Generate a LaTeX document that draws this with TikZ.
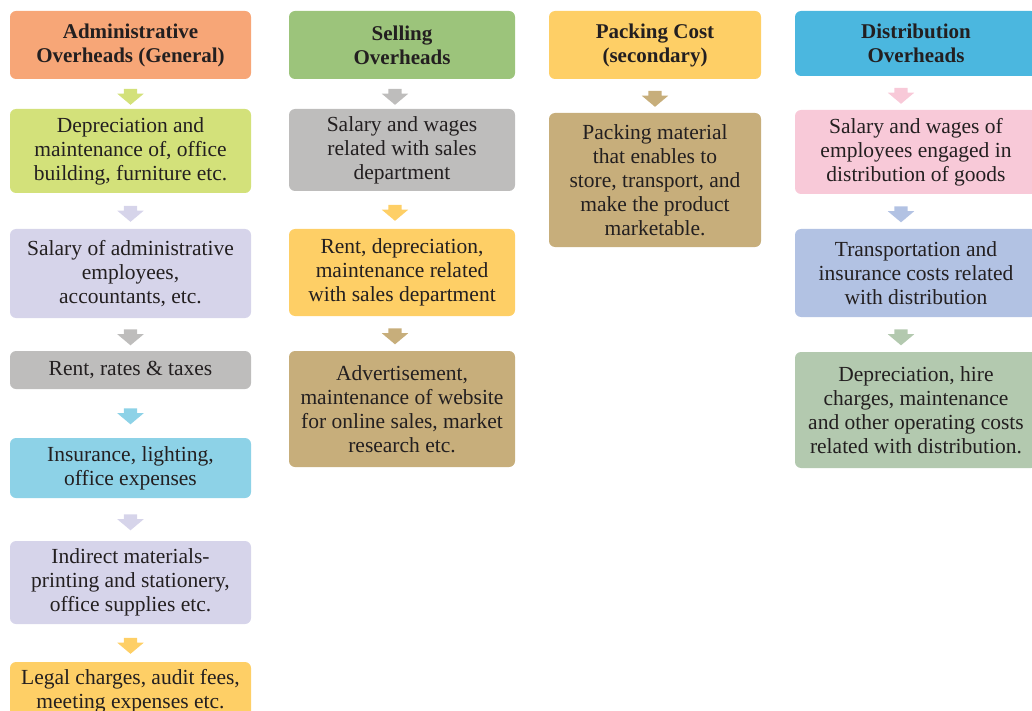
\documentclass[tikz,border=0pt]{standalone}
\usepackage{fontspec}
\setmainfont{Liberation Serif}
\usetikzlibrary{shapes.arrows}

\definecolor{cOrange}{HTML}{F7A677}
\definecolor{cLime}{HTML}{D3E17A}
\definecolor{cLav}{HTML}{D6D4EA}
\definecolor{cGray}{HTML}{BEBDBC}
\definecolor{cSky}{HTML}{8DD2E7}
\definecolor{cYellow}{HTML}{FECF66}
\definecolor{cGreen}{HTML}{9CC47B}
\definecolor{cTan}{HTML}{C7AE7B}
\definecolor{cBlue}{HTML}{4BB7DF}
\definecolor{cPink}{HTML}{F8C9D8}
\definecolor{cPeri}{HTML}{B2C2E3}
\definecolor{cSage}{HTML}{B3C9AF}
\definecolor{cInk}{HTML}{231F20}

\tikzset{
  box/.style={rounded corners=6pt, align=center, inner sep=2pt, text=cInk,
    font=\fontsize{21.5}{24}\selectfont},
  head/.style={box, font=\fontsize{21}{24}\selectfont\bfseries},
  flowarr/.style={single arrow, rotate=-90, draw=none,
    inner xsep=0pt, inner ysep=6.5pt,
    minimum height=16pt, minimum width=26pt,
    single arrow head extend=6.5pt, single arrow tip angle=100}
}

\begin{document}
\begin{tikzpicture}[x=1pt,y=-1pt]
  \useasboundingbox (0,0) rectangle (1032,711);

  % administrative overheads
  \node[head, fill=cOrange, minimum width=241pt, minimum height=68pt] (adm) at (130.5,45) {Administrative\\Overheads (General)};
  \node[box, fill=cLime, minimum width=241pt, minimum height=84pt] (a1) at (130.5,151) {Depreciation and\\maintenance of, office\\building, furniture etc.};
  \node[box, fill=cLav, minimum width=241pt, minimum height=89pt] (a2) at (130.5,273.5) {Salary of administrative\\employees,\\accountants, etc.};
  \node[box, fill=cGray, minimum width=241pt, minimum height=38pt] (a3) at (130.5,370) {Rent, rates \& taxes};
  \node[box, fill=cSky, minimum width=241pt, minimum height=60pt] (a4) at (130.5,468) {Insurance, lighting,\\office expenses};
  \node[box, fill=cLav, minimum width=241pt, minimum height=83pt] (a5) at (130.5,582.5) {Indirect materials-\\printing and stationery,\\office supplies etc.};
  \node[box, fill=cYellow, minimum width=241pt, minimum height=58pt] (a6) at (130.5,691) {Legal charges, audit fees,\\meeting expenses etc.};
  \path (adm) -- node[flowarr, fill=cLime] {} (a1);
  \path (a1) -- node[flowarr, fill=cLav] {} (a2);
  \path (a2) -- node[flowarr, fill=cGray] {} (a3);
  \path (a3) -- node[flowarr, fill=cSky] {} (a4);
  \path (a4) -- node[flowarr, fill=cLav] {} (a5);
  \path (a5) -- node[flowarr, fill=cYellow] {} (a6);

  % selling overheads
  \node[head, fill=cGreen, minimum width=226pt, minimum height=68pt] (sel) at (402,45) {Selling\\Overheads};
  \node[box, fill=cGray, minimum width=226pt, minimum height=82pt] (s1) at (402,150) {Salary and wages\\related with sales\\department};
  \node[box, fill=cYellow, minimum width=226pt, minimum height=87pt] (s2) at (402,272.5) {Rent, depreciation,\\maintenance related\\with sales department};
  \node[box, fill=cTan, minimum width=226pt, minimum height=116pt] (s3) at (402,409) {Advertisement,\\maintenance of website\\for online sales, market\\research etc.};
  \path ([xshift=-7pt]sel.south) -- node[flowarr, fill=cGray] {} ([xshift=-7pt]s1.north);
  \path ([xshift=-7pt]s1.south) -- node[flowarr, fill=cYellow] {} ([xshift=-7pt]s2.north);
  \path ([xshift=-7pt]s2.south) -- node[flowarr, fill=cTan] {} ([xshift=-7pt]s3.north);

  % packing cost
  \node[head, fill=cYellow, minimum width=212pt, minimum height=68pt] (pac) at (655,45) {Packing Cost\\(secondary)};
  \node[box, fill=cTan, minimum width=212pt, minimum height=134pt] (p1) at (655,180) {Packing material\\that enables to\\store, transport, and\\make the product\\marketable.};
  \path (pac) -- node[flowarr, fill=cTan] {} (p1);

  % distribution overheads
  \node[head, fill=cBlue, minimum width=242pt, minimum height=65pt] (dis) at (916,43.5) {Distribution\\Overheads};
  \node[box, fill=cPink, minimum width=242pt, minimum height=84pt] (d1) at (916,152) {Salary and wages of\\employees engaged in\\distribution of goods};
  \node[box, fill=cPeri, minimum width=242pt, minimum height=88pt] (d2) at (916,273) {Transportation and\\insurance costs related\\with distribution};
  \node[box, fill=cSage, minimum width=242pt, minimum height=116pt] (d3) at (916,410) {Depreciation, hire\\charges, maintenance\\and other operating costs\\related with distribution.};
  \path ([xshift=-15pt]dis.south) -- node[flowarr, fill=cPink] {} ([xshift=-15pt]d1.north);
  \path ([xshift=-15pt]d1.south) -- node[flowarr, fill=cPeri] {} ([xshift=-15pt]d2.north);
  \path ([xshift=-15pt]d2.south) -- node[flowarr, fill=cSage] {} ([xshift=-15pt]d3.north);
\end{tikzpicture}
\end{document}
